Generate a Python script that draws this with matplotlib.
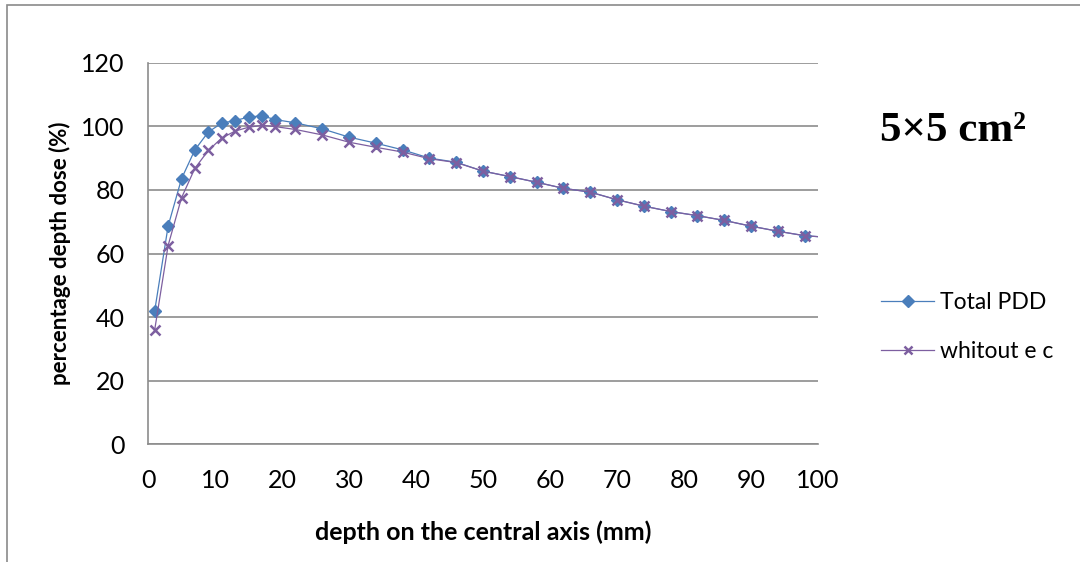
import matplotlib
matplotlib.use("Agg")
import matplotlib.pyplot as plt
from matplotlib.patches import Rectangle

depth_mm = [1, 3, 5, 7, 9, 11, 13, 15, 17, 19, 22, 26, 30, 34, 38, 42, 46, 50,
            54, 58, 62, 66, 70, 74, 78, 82, 86, 90, 94, 98, 102]
total_pdd = [42.0, 68.6, 83.5, 92.6, 98.2, 101.0, 101.8, 102.9, 103.3, 102.1,
             101.1, 99.2, 96.6, 94.7, 92.6, 90.0, 88.7, 85.9, 84.2, 82.4, 80.5,
             79.3, 76.9, 74.9, 73.2, 71.9, 70.4, 68.6, 67.0, 65.6, 65.0]
without_ec = [36.0, 62.5, 77.5, 86.8, 92.4, 96.3, 98.5, 99.7, 100.3, 99.9,
              99.0, 97.3, 95.0, 93.4, 91.9, 89.8, 88.6, 85.9, 84.2, 82.4, 80.5,
              79.3, 76.9, 74.9, 73.2, 71.9, 70.4, 68.6, 67.0, 65.6, 65.0]
x_ticks = [0, 10, 20, 30, 40, 50, 60, 70, 80, 90, 100]
y_ticks = [0, 20, 40, 60, 80, 100, 120]
series_labels = ["Total PDD", "whitout e c"]

plt.rcParams['font.family'] = ['Lato', 'DejaVu Sans']

W, H = 1080, 562
fig = plt.figure(figsize=(W / 100, H / 100), dpi=100)
fig.patch.set_facecolor("white")

# outer chart frame
fig.patches.append(Rectangle((7 / W, -0.1), 1.2, 1.1 - 5 / H, transform=fig.transFigure,
                             fill=False, edgecolor="#8a8a8a", linewidth=1.2))

ax = fig.add_axes([148 / W, 1 - 444.3 / H, 670 / W, 381.6 / H])
blue = "#4A7EBB"
purple = "#7D5FA0"
ax.plot(depth_mm, total_pdd, color=blue, lw=0.9, marker="D", ms=6.5,
        markeredgecolor=blue, markerfacecolor=blue, label=series_labels[0], zorder=3)
ax.plot(depth_mm, without_ec, color=purple, lw=0.9, marker="x", ms=7, mew=1.8,
        markeredgecolor=purple, label=series_labels[1], zorder=4)

ax.set_xlim(0, 100)
ax.set_ylim(0, 120)
ax.set_xticks(x_ticks)
ax.set_yticks(y_ticks)
ax.grid(axis="y", color="#8c8c8c", linewidth=1.2)
ax.set_axisbelow(True)
for s in ["top", "right"]:
    ax.spines[s].set_visible(False)
for s in ["left", "bottom"]:
    ax.spines[s].set_color("#8c8c8c")
    ax.spines[s].set_linewidth(1.2)
ax.tick_params(length=0, labelsize=18, colors="black")
ax.tick_params(axis="y", pad=17)
ax.tick_params(axis="x", pad=18)

ax.set_xlabel("depth on the central axis (mm)", fontsize=18, fontweight="bold", labelpad=20)
ax.set_ylabel("percentage depth dose (%)", fontsize=16, fontweight="bold", labelpad=7)

fig.text(880 / W, 1 - 131 / H, "5×5 cm²", fontsize=31, fontweight="bold",
         family="Liberation Serif", va="center", ha="left")

leg = fig.legend(loc="center left", bbox_to_anchor=(870 / W, 1 - 327 / H), frameon=False,
                 fontsize=16.5, handlelength=2.3, handletextpad=0.25, labelspacing=1.25,
                 borderpad=0)
for h in leg.legend_handles:
    h.set_markersize(6)

fig.savefig("out.png", dpi=100, facecolor="white")
